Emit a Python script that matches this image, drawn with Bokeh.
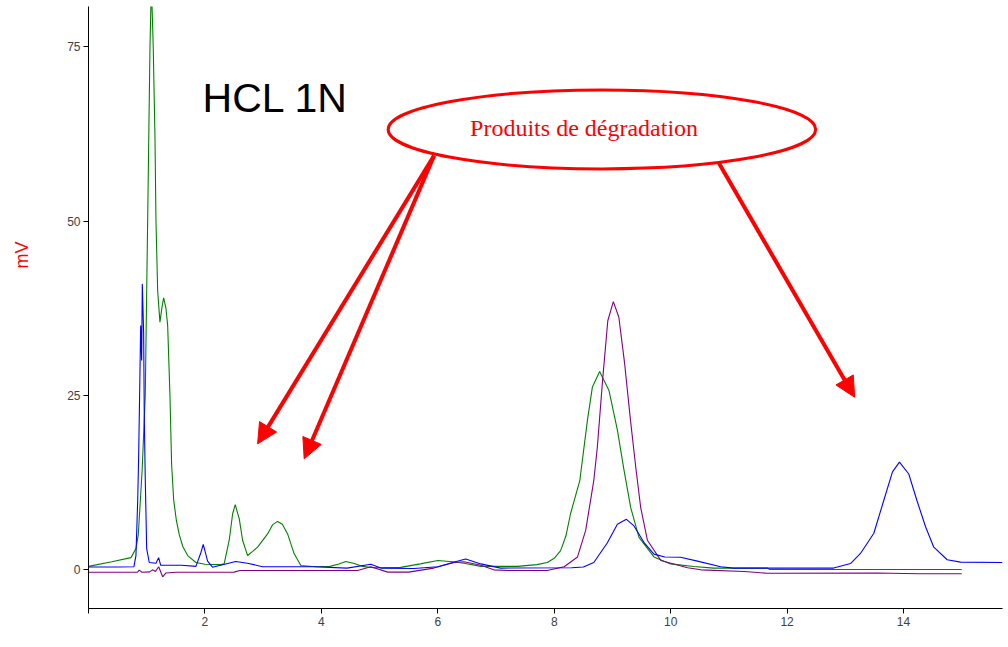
import math
from bokeh.plotting import figure
from bokeh.layouts import row
from bokeh.models import Range1d, Label, Arrow, NormalHead, FixedTicker
from bokeh.embed import file_html
from bokeh.resources import INLINE

# ---- data (retention time in min, signal in mV) ----
green_t = [0.0, 0.40, 0.73, 0.815, 0.855, 0.92, 0.975, 1.016, 1.056, 1.08, 1.112, 1.142,
           1.159, 1.188, 1.227, 1.26, 1.291, 1.33, 1.36, 1.399, 1.428, 1.463, 1.51, 1.559,
           1.62, 1.703, 1.845, 2.0, 2.275, 2.33, 2.417, 2.476, 2.52, 2.589, 2.647, 2.733,
           2.82, 2.905, 3.076, 3.16, 3.248, 3.33, 3.42, 3.533, 3.648, 3.9, 4.15, 4.3, 4.42,
           4.55, 4.7, 4.9, 5.36, 5.7, 6.0, 6.25, 6.45, 6.74, 7.37, 7.7, 7.88, 8.0, 8.11,
           8.2, 8.28, 8.44, 8.57, 8.656, 8.78, 8.94, 9.085, 9.2, 9.313, 9.456, 9.713, 10.0,
           10.395, 10.74, 11.665, 11.7, 15.0]
green_v = [0.45, 1.1, 1.7, 3.0, 5.0, 14.0, 25.0, 50.0, 75.0, 84.0, 75.0, 62.0,
           50.0, 40.0, 35.5, 37.5, 39.0, 37.5, 35.0, 25.0, 15.0, 10.0, 7.0, 5.0,
           3.3, 2.0, 1.0, 0.75, 0.7, 0.8, 4.2, 8.0, 9.3, 7.3, 4.2, 2.0,
           2.6, 3.2, 5.1, 6.4, 6.9, 6.5, 5.1, 2.25, 0.57, 0.4, 0.45, 0.8, 1.15,
           0.9, 0.45, 0.25, 0.3, 0.8, 1.3, 1.1, 0.9, 0.45, 0.45, 0.7, 1.0, 1.6, 2.7,
           4.8, 8.0, 12.8, 21.4, 26.2, 28.4, 25.7, 20.0, 14.2, 8.9, 4.6, 1.8, 0.8,
           0.43, 0.2, 0.2, 0.0, 0.0]

blue_t = [0.0, 0.5, 0.78, 0.815, 0.845, 0.861, 0.878, 0.896, 0.913, 0.924, 0.947, 0.958,
          0.975, 0.999, 1.044, 1.159, 1.205, 1.24, 1.6, 1.845, 1.93, 1.971, 2.046, 2.13,
          2.27, 2.53, 2.73, 2.99, 3.87, 4.44, 4.85, 5.02, 5.59, 6.0, 6.3, 6.48, 6.74,
          7.08, 8.3, 8.5, 8.68, 8.91, 9.085, 9.24, 9.365, 9.54, 9.713, 9.9, 10.17, 10.46,
          10.86, 11.08, 12.8, 13.09, 13.26, 13.49, 13.66, 13.81, 13.93, 14.09, 14.23,
          14.38, 14.52, 14.75, 14.98, 15.7]
blue_v = [0.35, 0.35, 0.4, 2.0, 9.9, 16.0, 25.0, 35.0, 30.0, 41.0, 34.0, 22.0,
          13.0, 3.0, 1.0, 0.9, 1.7, 0.6, 0.6, 0.45, 2.4, 3.6, 1.2, 0.33,
          0.6, 1.15, 0.9, 0.4, 0.4, 0.2, 0.75, 0.2, 0.15, 0.4, 1.1, 1.5, 0.8,
          0.2, 0.25, 0.35, 1.0, 3.8, 6.5, 7.2, 6.3, 3.9, 2.2, 1.8, 1.75, 1.2,
          0.4, 0.2, 0.2, 0.85, 2.3, 5.2, 9.9, 14.0, 15.4, 13.7, 9.9,
          6.1, 3.2, 1.4, 1.05, 1.0]

purple_t = [0.0, 0.84, 0.87, 0.92, 1.05, 1.1, 1.15, 1.205, 1.274, 1.33, 1.5, 2.5, 2.6,
            3.9, 4.62, 4.85, 5.14, 5.5, 5.93, 6.28, 6.45, 6.74, 6.96, 7.2, 7.88, 8.17,
            8.4, 8.54, 8.68, 8.74, 8.83, 8.92, 9.015, 9.11, 9.21, 9.31, 9.4, 9.485, 9.6,
            9.83, 10.29, 10.52, 11.26, 11.66, 13.55, 14.26, 15.0]
purple_v = [-0.4, -0.4, -0.1, -0.4, -0.35, -0.05, -0.3, 0.4, -1.05, -0.5, -0.4, -0.38, -0.14,
            -0.14, -0.14, 0.4, -0.38, -0.38, 0.2, 1.0, 1.1, 0.6, -0.05, -0.14, -0.14, 0.4,
            1.8, 5.6, 12.8, 17.5, 27.1, 35.7, 38.45, 36.2, 29.5, 21.4, 14.7, 8.9, 4.2,
            1.3, 0.25, -0.05, -0.3, -0.55, -0.5, -0.62, -0.62]

x_ticks = [0, 2, 4, 6, 8, 10, 12, 14]
y_ticks = [0, 25, 50, 75]

# annotation geometry (data units)
ellipse_center = (8.819, 63.16)
ellipse_size = (7.343, 11.33)
arrow_starts = [(5.936, 59.4), (5.936, 59.4), (10.83, 58.29)]
arrow_ends = [(2.905, 18.03), (3.705, 15.88), (13.16, 24.72)]

# ---- narrow left strip holding the y unit label ----
LEFT_W = 40
side = figure(width=LEFT_W, height=647, output_backend="svg", toolbar_location=None,
              x_range=Range1d(0, LEFT_W), y_range=Range1d(0, 647),
              min_border_left=0, min_border_right=0, min_border_top=0, min_border_bottom=0)
side.axis.visible = False
side.grid.visible = False
side.outline_line_color = None
side.background_fill_color = "white"
side.border_fill_color = "white"
side.add_layout(Label(x=21, y=380, text="mV", text_font="Liberation Sans",
                      text_font_size="18px", text_color="red", angle=math.pi / 2,
                      text_align="center", text_baseline="middle"))

# ---- main chromatogram ----
p = figure(width=1008 - LEFT_W, height=647, output_backend="svg", toolbar_location=None,
           x_range=Range1d(0, 15.70), y_range=Range1d(-5.6, 80.8),
           min_border_left=88 - LEFT_W, min_border_right=6, min_border_top=6,
           min_border_bottom=39)
p.outline_line_color = None
p.grid.visible = False
p.background_fill_color = "white"
p.border_fill_color = "white"

p.xaxis.ticker = FixedTicker(ticks=x_ticks)
p.xaxis.major_label_overrides = {0: ""}
p.yaxis.ticker = FixedTicker(ticks=y_ticks)
for ax in (p.xaxis, p.yaxis):
    ax.axis_line_color = "black"
    ax.axis_line_width = 1
    ax.major_tick_line_color = "black"
    ax.major_tick_out = 5
    ax.major_tick_in = 0
    ax.minor_tick_line_color = None
    ax.major_label_text_font = "Liberation Sans"
    ax.major_label_text_font_size = "12px"
    ax.major_label_text_color = "#404040"
p.xaxis.major_label_standoff = 3
p.yaxis.major_label_standoff = 3

p.line(green_t, green_v, line_color="#008000", line_width=1.1)
p.line(purple_t, purple_v, line_color="#800080", line_width=1.1)
p.line(blue_t, blue_v, line_color="#0000ff", line_width=1.1)

p.ellipse(x=[ellipse_center[0]], y=[ellipse_center[1]], width=[ellipse_size[0]],
          height=[ellipse_size[1]], fill_color="white", line_color="red", line_width=3)

p.add_layout(Label(x=1.96, y=67.6, text="HCL 1N", text_font="Liberation Sans",
                   text_font_size="41px", text_color="black", text_baseline="alphabetic"))
p.add_layout(Label(x=6.555, y=63.35, text="Produits de dégradation", text_font="Liberation Serif",
                   text_font_size="24px", text_color="red", text_baseline="alphabetic"))

for (xs, ys), (xe, ye) in zip(arrow_starts, arrow_ends):
    p.add_layout(Arrow(end=NormalHead(size=20, fill_color="red", line_color="red"),
                       x_start=xs, y_start=ys, x_end=xe, y_end=ye,
                       line_color="red", line_width=4))

layout = row(side, p, spacing=0)
open("out.html", "w").write(file_html(layout, INLINE))
